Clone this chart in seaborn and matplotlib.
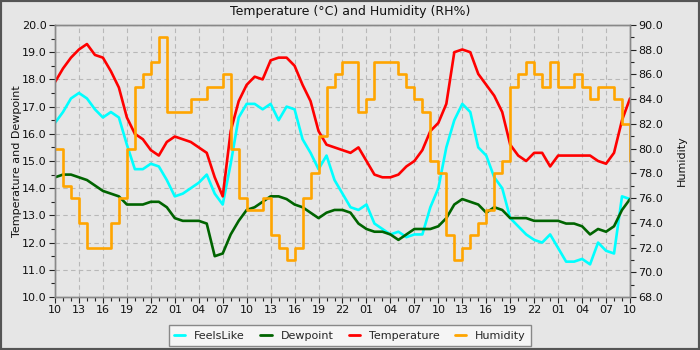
import matplotlib
matplotlib.use("Agg")
import matplotlib.pyplot as plt
import pandas as pd
import seaborn as sns
from matplotlib.ticker import MultipleLocator, FixedLocator, FormatStrFormatter
from matplotlib.patches import Rectangle
from matplotlib.lines import Line2D

# hours since 10:00 on day 1
hours = list(range(73))

temperature = [17.9, 18.4, 18.8, 19.1, 19.3, 18.9, 18.8, 18.3, 17.7, 16.6, 16.0, 15.8, 15.4, 15.2,
               15.7, 15.9, 15.8, 15.7, 15.5, 15.3, 14.4, 13.7, 16.1, 17.2, 17.8,
               18.1, 18.0, 18.7, 18.8, 18.8, 18.5, 17.8, 17.2, 16.1, 15.6, 15.5, 15.4, 15.3,
               15.5, 15.0, 14.5, 14.4, 14.4, 14.5, 14.8, 15.0, 15.4, 16.1,
               16.4,
               17.1, 19.0, 19.1, 19.0, 18.2, 17.8, 17.4, 16.8, 15.6, 15.2, 15.0, 15.3, 15.3,
               14.8, 15.2, 15.2, 15.2, 15.2, 15.2, 15.0, 14.9, 15.3, 16.5, 17.3]

feelslike = [16.4, 16.8, 17.3, 17.5, 17.3, 16.9, 16.6, 16.8, 16.6, 15.6, 14.7, 14.7, 14.9, 14.8,
             14.3, 13.7, 13.8, 14.0, 14.2, 14.5, 13.8, 13.4, 14.9, 16.6, 17.1,
             17.1, 16.9, 17.1, 16.5, 17.0, 16.9, 15.8, 15.3, 14.7, 15.2, 14.3, 13.8, 13.3,
             13.2, 13.4, 12.7, 12.5, 12.3, 12.4, 12.2, 12.3, 12.3, 13.3,
             14.0,
             15.5, 16.5, 17.1, 16.8, 15.5, 15.2, 14.4, 14.0, 12.9, 12.6, 12.3, 12.1, 12.0,
             12.3, 11.8, 11.3, 11.3, 11.4, 11.2, 12.0, 11.7, 11.6, 13.7, 13.6]

dewpoint = [14.4, 14.5, 14.5, 14.4, 14.3, 14.1, 13.9, 13.8, 13.7, 13.4, 13.4, 13.4, 13.5, 13.5,
            13.3, 12.9, 12.8, 12.8, 12.8, 12.7, 11.5, 11.6, 12.3, 12.8, 13.2,
            13.3, 13.5, 13.7, 13.7, 13.6, 13.4, 13.3, 13.1, 12.9, 13.1, 13.2, 13.2, 13.1,
            12.7, 12.5, 12.4, 12.4, 12.3, 12.1, 12.3, 12.5, 12.5, 12.5,
            12.6,
            12.9, 13.4, 13.6, 13.5, 13.4, 13.1, 13.3, 13.2, 12.9, 12.9, 12.9, 12.8, 12.8,
            12.8, 12.8, 12.7, 12.7, 12.6, 12.3, 12.5, 12.4, 12.6, 13.2, 13.6]

humidity = [80, 77, 76, 74, 72, 72, 72, 74, 76, 80, 85, 86, 87, 89,
            83, 83, 83, 84, 84, 85, 85, 86, 80, 76, 75,
            75, 76, 73, 72, 71, 72, 76, 78, 81, 85, 86, 87, 87,
            83, 84, 87, 87, 87, 86, 85, 84, 83, 79,
            78,
            73, 71, 72, 73, 74, 75, 78, 79, 85, 86, 87, 86, 85,
            87, 85, 85, 86, 85, 84, 85, 85, 84, 82, 79]

xtick_labels = ["10", "13", "16", "19", "22", "01", "04", "07"] * 3 + ["10"]

df = pd.DataFrame({"hour": hours, "FeelsLike": feelslike, "Dewpoint": dewpoint,
                   "Temperature": temperature, "Humidity": humidity})

sns.set_theme(style="ticks")
plt.rcParams['font.family'] = ['DejaVu Sans']

BG = '#e6e6e6'
fig = plt.figure(figsize=(7, 3.5), dpi=100, facecolor=BG)
ax = fig.add_axes([55 / 700, 53 / 350, 575 / 700, 272 / 350])
ax.set_facecolor(BG)
ax2 = ax.twinx()

colors = {"FeelsLike": "#00ffff", "Dewpoint": "#006400", "Temperature": "#ff0000", "Humidity": "#ffa500"}
lw = 1.9
sns.lineplot(data=df, x="hour", y="FeelsLike", ax=ax, color=colors["FeelsLike"], lw=lw, legend=False)
sns.lineplot(data=df, x="hour", y="Dewpoint", ax=ax, color=colors["Dewpoint"], lw=lw, legend=False)
sns.lineplot(data=df, x="hour", y="Temperature", ax=ax, color=colors["Temperature"], lw=lw, legend=False)
sns.lineplot(data=df, x="hour", y="Humidity", ax=ax2, color=colors["Humidity"], lw=lw, legend=False,
             drawstyle="steps-post")

ax.set_xlim(0, 72)
ax.set_ylim(10, 20)
ax2.set_ylim(68, 90)

ax.xaxis.set_major_locator(FixedLocator(list(range(0, 73, 3))))
ax.set_xticklabels(xtick_labels)
ax.xaxis.set_minor_locator(MultipleLocator(1))
ax.yaxis.set_major_locator(MultipleLocator(1))
ax.yaxis.set_minor_locator(MultipleLocator(0.5))
ax.yaxis.set_major_formatter(FormatStrFormatter('%.1f'))
ax2.yaxis.set_major_locator(MultipleLocator(2))
ax2.yaxis.set_minor_locator(MultipleLocator(1))
ax2.yaxis.set_major_formatter(FormatStrFormatter('%.1f'))

for a in (ax, ax2):
    a.set_xlabel("")
    a.set_ylabel("")
    a.tick_params(which='major', direction='out', length=4, width=0.8, color='#222222',
                  labelsize=8, labelcolor='#111111', pad=2)
    a.tick_params(which='minor', direction='out', length=3, width=0.8, color='#222222')
    for s in a.spines.values():
        s.set_color('#888888')
        s.set_linewidth(1.0)
ax2.grid(False)
ax.grid(True, which='major', linestyle=(0, (4, 3)), color='#b8b8b8', lw=0.8)
ax.set_axisbelow(True)

fig.text(0.5, 1 - 12 / 350, "Temperature (°C) and Humidity (RH%)", ha='center', va='center',
         fontsize=9, color='#111111')
fig.text(17 / 700, 1 - 161 / 350, "Temperature and Dewpoint", rotation=90, ha='center',
         va='center', fontsize=8, color='#111111')
fig.text(682 / 700, 1 - 161 / 350, "Humidity", rotation=90, ha='center', va='center',
         fontsize=8, color='#111111')

handles = [Line2D([], [], color=colors[k], lw=2) for k in ["FeelsLike", "Dewpoint", "Temperature", "Humidity"]]
leg = fig.legend(handles, ["FeelsLike", "Dewpoint", "Temperature", "Humidity"],
                 loc='upper center', bbox_to_anchor=(0.5, 1 - 325 / 350), ncol=4, fontsize=8,
                 frameon=True, fancybox=False, edgecolor='#888888', facecolor='#f5f5f5',
                 framealpha=1, handlelength=1.0, columnspacing=1.4, borderpad=0.5,
                 handletextpad=0.8, borderaxespad=0)
leg.get_frame().set_linewidth(1.0)

fig.patches.append(Rectangle((0, 0), 1, 1, transform=fig.transFigure, fill=False,
                             edgecolor='#555555', lw=3, zorder=10))

fig.savefig('out.png', dpi=100, facecolor=BG)
